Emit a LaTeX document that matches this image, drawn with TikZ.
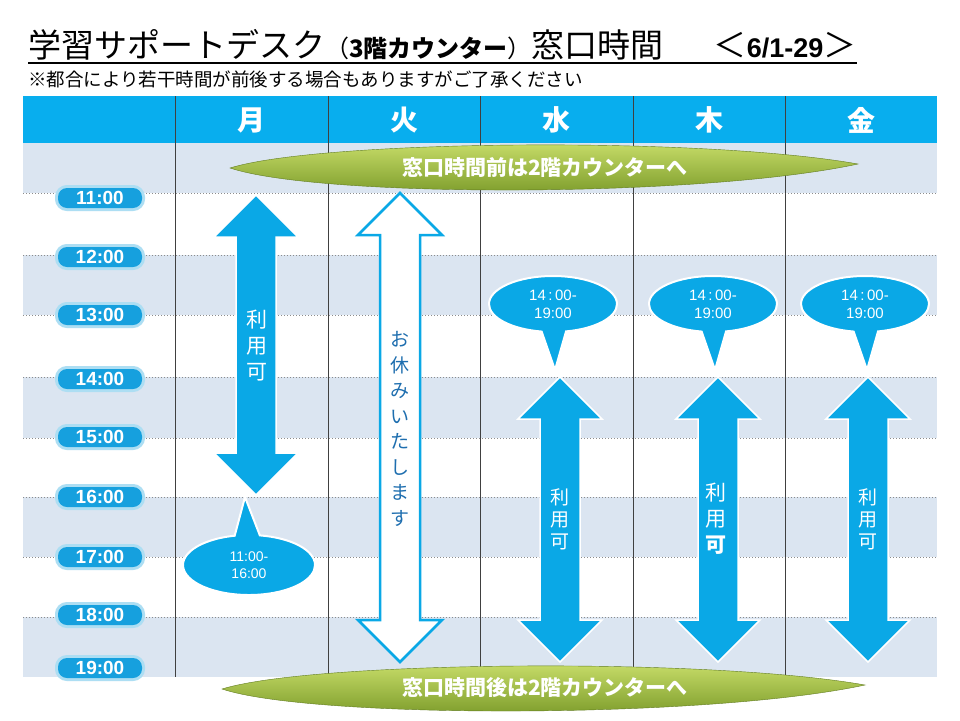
\documentclass[tikz,border=0pt]{standalone}
\usepackage{fontspec}
\setmainfont{Noto Sans CJK JP}
\newfontfamily\numfont{Liberation Sans}
\usetikzlibrary{shapes.callouts,shapes.geometric}
\definecolor{headblue}{RGB}{8,174,238}
\definecolor{rowblue}{RGB}{219,229,241}
\definecolor{arrowblue}{RGB}{10,168,230}
\definecolor{pillblue}{RGB}{22,160,222}
\definecolor{restblue}{RGB}{30,110,175}
\definecolor{leafgreen}{RGB}{140,178,45}
\definecolor{leaflight}{RGB}{208,228,112}

\begin{document}
\begin{tikzpicture}[x=1pt,y=-1pt,
  daylabel/.style={text=white,font=\fontsize{28}{28}\selectfont\bfseries},
  timepill/.style={fill=pillblue,rounded corners=9pt,minimum width=84pt,minimum height=20pt,inner sep=0pt,
    text=white,font=\numfont\fontsize{19}{19}\selectfont\bfseries,
    preaction={draw=pillblue!35,line width=6pt,rounded corners=10pt}},
  bigarrow/.style={fill=arrowblue,draw=white,line width=1.5pt},
  restarrow/.style={fill=white,draw=arrowblue,line width=2.5pt},
  bubble/.style={ellipse callout,fill=arrowblue,draw=white,line width=2pt,text=white,align=center,
    inner sep=0pt,font=\numfont\fontsize{14}{17}\selectfont,callout pointer arc=22},
  banner/.style={top color=leaflight,bottom color=leafgreen!85!black,draw=leafgreen!70!black,line width=0.4pt},
  bannertext/.style={text=white,font=\fontsize{21}{21}\selectfont\bfseries},
  vlabel/.style={align=center,text=white,font=\fontsize{21}{26}\selectfont}]

  \useasboundingbox (0,0) rectangle (960,720);
  \fill[white] (0,0) rectangle (960,720);

  \node[anchor=base west,inner sep=0pt,font=\fontsize{33}{33}\selectfont] (title) at (28,57)
    {学習サポートデスク{\fontsize{24}{24}\selectfont（\textbf{3階カウンター}）}窓口時間\hspace{50pt}＜{\numfont\bfseries\fontsize{27}{27}\selectfont 6/1-29}＞};
  \draw[line width=1.5pt] ([yshift=-6pt]title.base west) -- ([yshift=-6pt]title.base east);
  \node[anchor=west,inner sep=0pt,font=\fontsize{18.5}{18.5}\selectfont] (note) at (28,79)
    {※都合により若干時間が前後する場合もありますがご了承ください};

  \foreach \a/\b in {143/193,255/315,377/438,497/557,617/677}
    \fill[rowblue] (23,\a) rectangle (937,\b);
  \foreach \y in {193,255,315,377,438,497,557,617}
    \draw[black!45,dotted,line width=1pt] (23,\y) -- (937,\y);
  \fill[headblue] (23,96) rectangle (937,143);
  \foreach \x in {175,328,480,633,785}
    \draw[black!75,line width=0.8pt] (\x,96) -- (\x,677);

  \foreach \d/\x [count=\i] in {月/251,火/404,水/556,木/709,金/861}
    \node[daylabel] (day\i) at (\x,120) {\d};

  \foreach \y [count=\h from 11] in {198,257,315,379,437,497,557,615,668}
    \node[timepill] (h\h) at (100,\y) {\h:00};

  \shade[banner] (230,168) .. controls (320,140) and (700,136) .. (858,164)
    .. controls (700,198) and (320,198) .. cycle;
  \node[bannertext] (before) at (545,168) {窓口時間前は2階カウンターへ};
  \shade[banner] (222,689) .. controls (312,661) and (707,657) .. (865,685)
    .. controls (707,719) and (312,719) .. cycle;
  \node[bannertext] (after) at (545,688) {窓口時間後は2階カウンターへ};

  \foreach \x/\t/\b in {256/195/495,560/377/662,718/377/662,868/377/662}
    \draw[bigarrow] (\x,\t) -- ++(42,42) -- ++(-22,0) -- (\x+20,\b-42) -- ++(22,0) -- (\x,\b)
      -- ++(-42,-42) -- ++(22,0) -- (\x-20,\t+42) -- ++(-22,0) -- cycle;
  \draw[restarrow] (400,193) -- ++(42,42) -- ++(-22,0) -- (420,620) -- ++(22,0) -- (400,662)
      -- ++(-42,-42) -- ++(22,0) -- (380,235) -- ++(-22,0) -- cycle;

  \node[vlabel] (monuse) at (257,346) {利\\用\\可};
  \node[vlabel,text=restblue,font=\fontsize{19}{25.5}\selectfont] (tuerest) at (400,429)
    {お\\休\\み\\い\\た\\し\\ま\\す};
  \node[vlabel,font=\fontsize{19}{22}\selectfont] (weduse) at (560,519) {利\\用\\可};
  \node[vlabel] (thuuse) at (716,519) {利\\用\\\textbf{可}};
  \node[vlabel,font=\fontsize{19}{22}\selectfont] (friuse) at (868,519) {利\\用\\可};

  \coordinate (mon tip) at (245,497);
  \node[bubble,minimum width=132pt,minimum height=60pt,callout absolute pointer={(mon tip)}] (monbub)
    at (249,565) {11:00-\\16:00};
  \foreach \n/\x in {wed/553,thu/713,fri/865} {
    \coordinate (\n\space tip) at (\x+2,370);
    \node[bubble,minimum width=128pt,minimum height=56pt,callout absolute pointer={(\n\space tip)},
      font=\numfont\fontsize{15}{18}\selectfont] (\n bub) at (\x,304) {14\,:\,00-\\19:00};
  }
\end{tikzpicture}
\end{document}
